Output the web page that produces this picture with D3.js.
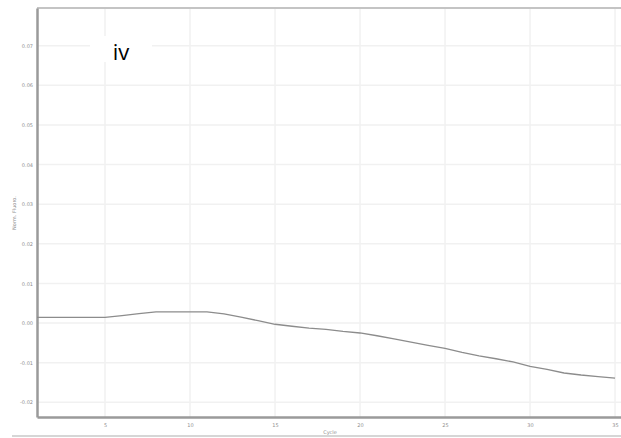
<!DOCTYPE html>
<html><head><meta charset="utf-8">
<script src="https://cdn.jsdelivr.net/npm/d3@7"></script>
<style>body{margin:0;background:#fff}svg{display:block}</style>
</head><body>
<svg id="c" width="621" height="438"></svg>
<script>
const cycles = d3.range(1, 36);
const fluoro = [0.00144,0.00144,0.00144,0.00144,0.00144,0.0019,0.0024,0.00285,0.00285,0.00285,0.00285,0.0023,0.0015,0.0006,-0.0003,-0.0008,-0.0013,-0.0016,-0.0021,-0.0025,-0.0032,-0.0040,-0.0048,-0.0056,-0.0064,-0.0074,-0.0083,-0.0090,-0.0098,-0.0109,-0.0117,-0.0126,-0.0131,-0.0135,-0.0139];
const xTicks = [5,10,15,20,25,30,35];
const yTicks = [-0.02,-0.01,0.00,0.01,0.02,0.03,0.04,0.05,0.06,0.07];
const yTickLabels = ["-0.02","-0.01","0.00","0.01","0.02","0.03","0.04","0.05","0.06","0.07"];
const panelLabel = "iv";
const xTitle = "Cycle";
const yTitle = "Norm. Fluoro.";

const svg = d3.select("#c");
const L = 37, R = 621, T = 8, B = 417;
const x = d3.scaleLinear().domain([1, 35.35]).range([L, R]);
const y = d3.scaleLinear().domain([-0.0237, 0.0795]).range([B, T]);

// grid
svg.append("g").selectAll("line").data(xTicks).join("line")
  .attr("x1", d => x(d)).attr("x2", d => x(d)).attr("y1", T).attr("y2", B)
  .attr("stroke", "#f1f1f1").attr("stroke-width", 1.5);
svg.append("g").selectAll("line").data(yTicks).join("line")
  .attr("x1", L).attr("x2", R).attr("y1", d => y(d)).attr("y2", d => y(d))
  .attr("stroke", "#f1f1f1").attr("stroke-width", 1.5);

// top border
svg.append("line").attr("x1", L).attr("x2", R).attr("y1", T).attr("y2", T)
  .attr("stroke", "#c4c4c4").attr("stroke-width", 2);

// axes
const yAxis = svg.append("g").attr("transform", `translate(${L},0)`)
  .call(d3.axisLeft(y).tickValues(yTicks).tickFormat((d,i) => yTickLabels[i]).tickSize(0).tickPadding(4));
const xAxis = svg.append("g").attr("transform", `translate(0,${B})`)
  .call(d3.axisBottom(x).tickValues(xTicks).tickSize(0).tickPadding(6));
[yAxis, xAxis].forEach(a => {
  a.select(".domain").attr("stroke", "#9a9a9a").attr("stroke-width", 2.5);
  a.selectAll("text").attr("fill", "#8f8f8f").style("font-size", "5px").style("font-family", "DejaVu Sans");
});

// bottom line
svg.append("line").attr("x1", 12).attr("x2", R).attr("y1", 436).attr("y2", 436)
  .attr("stroke", "#c8c8c8").attr("stroke-width", 1.5);

// titles
svg.append("text").attr("x", 330).attr("y", 434).attr("text-anchor", "middle")
  .attr("fill", "#8f8f8f").style("font-size", "5px").style("font-family", "DejaVu Sans").text(xTitle);
svg.append("text").attr("transform", "translate(16,213) rotate(-90)").attr("text-anchor", "middle")
  .attr("fill", "#8f8f8f").style("font-size", "5px").style("font-family", "DejaVu Sans").text(yTitle);

// data line
svg.append("path").datum(cycles.map((c, i) => [c, fluoro[i]]))
  .attr("fill", "none").attr("stroke", "#8c8c8c").attr("stroke-width", 1.3)
  .attr("d", d3.line().x(d => x(d[0])).y(d => y(d[1])));

// panel label
svg.append("rect").attr("x", 90).attr("y", 36).attr("width", 62).attr("height", 26).attr("fill", "#fff");
svg.append("text").attr("x", 121).attr("y", 60).attr("text-anchor", "middle")
  .attr("fill", "#000").style("font-size", "22px").style("font-family", "Open Sans").text(panelLabel);
</script>
</body></html>
